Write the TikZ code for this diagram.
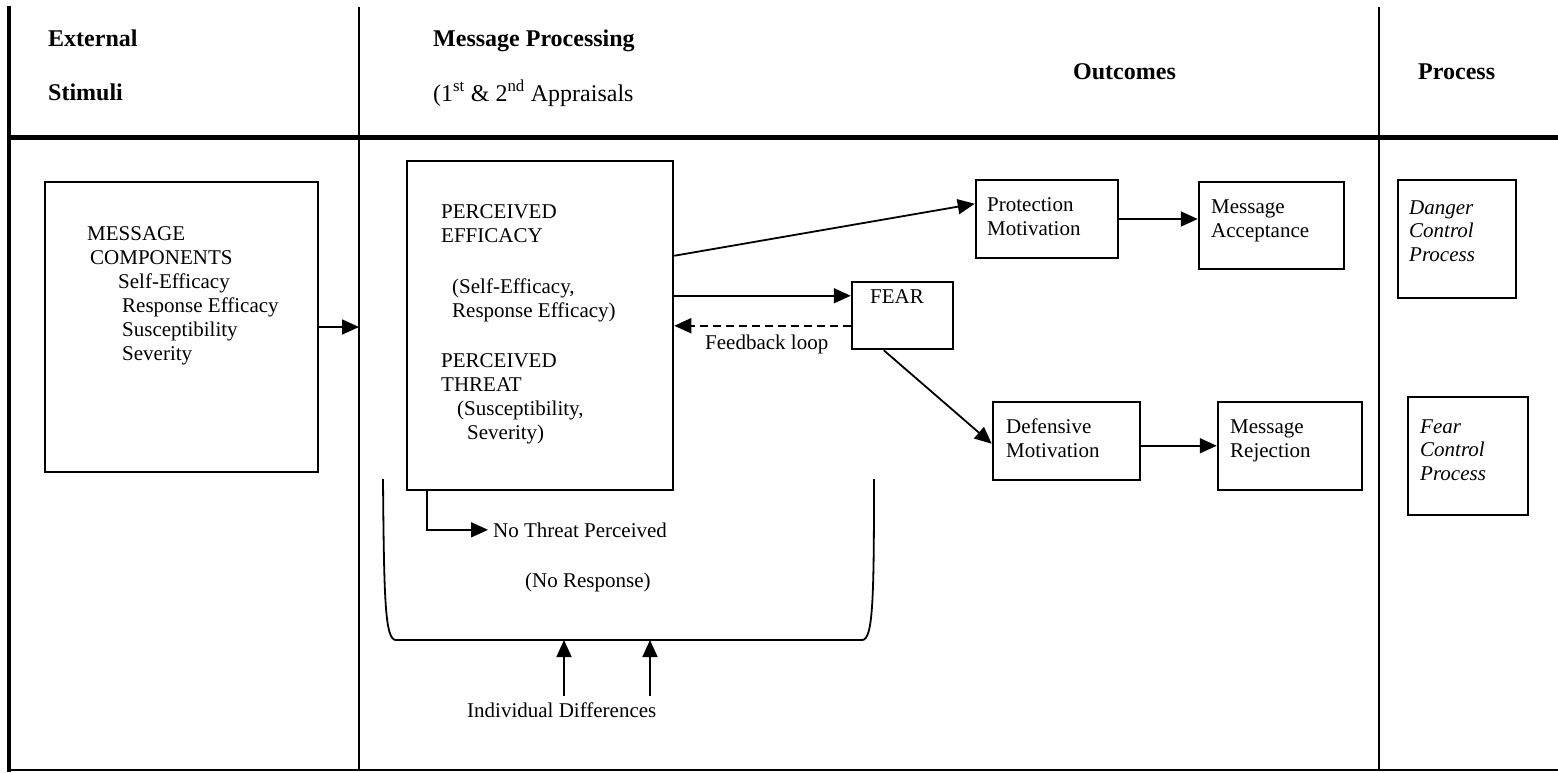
\documentclass[tikz,border=0pt]{standalone}
\usepackage{fontspec}
\setmainfont{Liberation Serif}
\usetikzlibrary{arrows.meta,calc}
\newcommand\bdf{\fontsize{21}{24}\selectfont}
\newcommand\hdf{\fontsize{24}{28}\selectfont}
\newcommand\itf{\fontsize{21}{23.5}\selectfont\itshape}
\newcommand\fl{\rule{0pt}{16pt}}
\begin{document}
\begin{tikzpicture}[x=1pt,y=-1pt,
 box/.style={draw, line width=2.5pt, inner sep=0pt},
 txt/.style={anchor=north west, inner sep=0pt, align=left, font=\bdf},
 itxt/.style={anchor=north west, inner sep=0pt, align=left, font=\itf},
 lbl/.style={anchor=base west, inner sep=0pt, font=\bdf},
 hdr/.style={anchor=base west, inner sep=0pt, font=\hdf\bfseries},
 hdrr/.style={anchor=base west, inner sep=0pt, font=\hdf},
 arr/.style={line width=1.8pt, -{Triangle[length=17pt,width=15pt]}},
 frm/.style={line width=2pt},
]
\useasboundingbox (0,0) rectangle (1558,772);
% frame
\coordinate (divA) at (359,7);
\coordinate (divB) at (1379,7);
\draw[line width=4pt] (9,6) -- (9,772);
\draw[line width=5pt] (7,137) -- (1558,137);
\draw[frm] (divA) -- (359,771);
\draw[frm] (divB) -- (1379,771);
\draw[frm] (9,770) -- (1558,770);
% headers
\node[hdr] (hExt) at (48,46) {External};
\node[hdr] (hStim) at (48,100) {Stimuli};
\node[hdr] (hMP) at (433,46) {Message Processing};
\node[hdrr] (hApp) at (433,101) {(1\textsuperscript{st} \& 2\textsuperscript{nd} Appraisals};
\node[hdr] (hOut) at (1073,79) {Outcomes};
\node[hdr] (hProc) at (1418,79) {Process};
% boxes
\node[box, minimum width=273pt, minimum height=290pt] (mc) at (181.5,327) {};
\node[box, minimum width=266pt, minimum height=329pt] (perc) at (540,325.5) {};
\node[box, minimum width=142pt, minimum height=78pt] (prot) at (1047,219) {};
\node[box, minimum width=145pt, minimum height=87pt] (acc) at (1271.5,225.5) {};
\node[box, minimum width=101pt, minimum height=67pt] (fear) at (902.5,315.5) {};
\node[box, minimum width=147pt, minimum height=78pt] (def) at (1066.5,441) {};
\node[box, minimum width=144pt, minimum height=88pt] (rej) at (1290,446) {};
\node[box, minimum width=118pt, minimum height=118pt] (dcp) at (1457,239) {};
\node[box, minimum width=120pt, minimum height=118pt] (fcp) at (1468,456) {};
% box texts
\node[txt] (mcT) at (87,224) {\fl MESSAGE\\\hspace*{3pt}COMPONENTS\\\hspace*{31pt}Self-Efficacy\\\hspace*{35pt}Response Efficacy\\\hspace*{35pt}Susceptibility\\\hspace*{35pt}Severity};
\node[txt] (pe1) at (441,202) {\fl PERCEIVED\\EFFICACY};
\node[txt] (pe2) at (452,277) {\fl(Self-Efficacy,\\Response Efficacy)};
\node[txt] (pt) at (441,351) {\fl PERCEIVED\\THREAT\\\hspace*{16pt}(Susceptibility,\\\hspace*{26pt}Severity)};
\node[txt] (protT) at (987,195) {\fl Protection\\Motivation};
\node[txt] (accT) at (1211,197) {\fl Message\\Acceptance};
\node[txt] (fearT) at (870,287) {\fl FEAR};
\node[txt] (defT) at (1006,417) {\fl Defensive\\Motivation};
\node[txt] (rejT) at (1230,417) {\fl Message\\Rejection};
\node[itxt] (dcpT) at (1409,198) {\fl Danger\\Control\\Process};
\node[itxt] (fcpT) at (1420,417) {\fl Fear\\Control\\Process};
% labels
\node[lbl] (fb) at (705,349) {Feedback loop};
\node[lbl] (nothreat) at (493,537) {No Threat Perceived};
\node[lbl] (noresp) at (525,587) {(No Response)};
\node[lbl] (indiv) at (467,717) {Individual Differences};
% connectors
\draw[arr] (mc.east) -- (mc.east -| divA);
\draw[arr] ($(perc.north east)+(0,96)$) -- ($(prot.north west)+(0,25)$);
\draw[arr] ($(perc.north east)+(0,136)$) -- ($(fear.north west)+(0,15)$);
\draw[arr, dash pattern=on 8pt off 5pt] ($(fear.north west)+(0,45)$) -- ($(perc.north east)+(0,166)$);
\draw[arr] ($(fear.south west)+(33,0)$) -- ($(def.north west)+(0,43)$);
\draw[arr] (prot.east) -- (prot.east -| acc.west);
\draw[arr] ($(def.north east)+(0,45)$) -- ($(rej.north west)+(0,45)$);
\draw[arr] ($(perc.south west)+(21,0)$) |- ([xshift=-5pt]nothreat.west);
% bracket
\coordinate (bkL) at (383,479);
\coordinate (bkR) at (874,479);
\coordinate (bkB) at (600,640);
\draw[line width=1.8pt] (bkL) .. controls (384,600) and (385,640) .. (396,640) -- (862,640) .. controls (873,640) and (874,600) .. (bkR);
\coordinate (ida) at (564,696);
\coordinate (idb) at (650,696);
\draw[arr] (ida) -- (ida |- bkB);
\draw[arr] (idb) -- (idb |- bkB);
\end{tikzpicture}
\end{document}
